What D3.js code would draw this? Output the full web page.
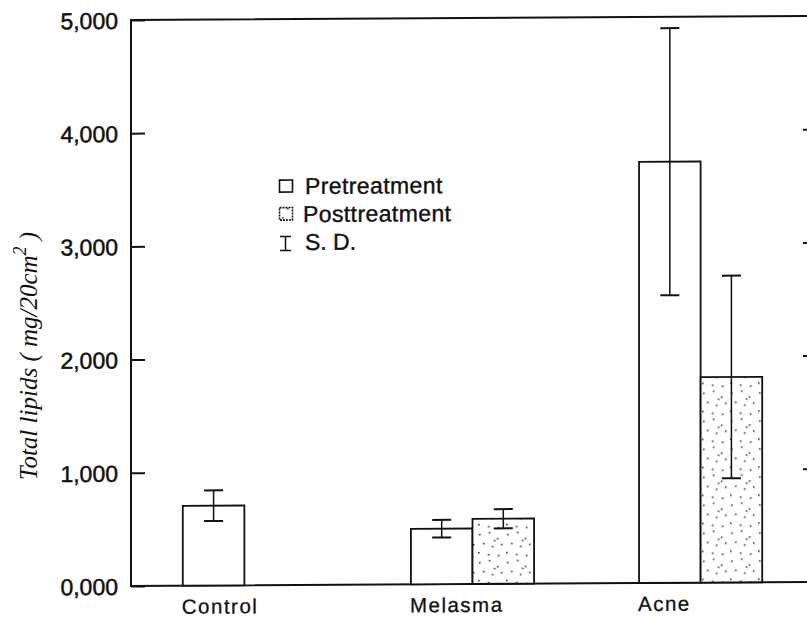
<!doctype html>
<meta charset="utf-8">
<style>
  body { margin: 0; background: #fff; }
  text { fill: #111; }
</style>
<body>
<script src="https://cdn.jsdelivr.net/npm/d3@7"></script>
<script>

// values (mg/20cm2)
let categories = ["Control", "Melasma", "Acne"];
let series = ["Pretreatment", "Posttreatment"];
let preMeans = [705, 490, 3720];
let preSD = [135, 78, 1180];
let postMeans = [null, 575, 1815];
let postSD = [null, 85, 895];
let yTicks = [0, 1000, 2000, 3000, 4000, 5000];

let width = 807, height = 622;
let plotLeft = 131, plotRight = 817, plotTop = 20, plotBottom = 586;

let svg = d3.select("body").append("svg")
    .attr("width", width)
    .attr("height", height);

// dotted fill for the posttreatment bars
let pat = svg.append("defs").append("pattern")
    .attr("id", "dots")
    .attr("patternUnits", "userSpaceOnUse")
    .attr("width", 28).attr("height", 28);
pat.append("rect").attr("width", 28).attr("height", 28).attr("fill", "#fff");
[[3,4],[13,2],[21,8],[7,13],[16,16],[25,14],[2,22],[12,24],[22,25],[18,10]]
  .forEach(p => pat.append("rect")
    .attr("x", p[0]).attr("y", p[1]).attr("width", 1.5).attr("height", 1.5)
    .attr("fill", "#222"));

// the scan is slightly tilted: horizontals drop a few px to the left
let g = svg.append("g")
    .attr("transform", "translate(" + plotLeft + ",0) skewY(-0.34) translate(" + (-plotLeft) + ",0)");

let y = d3.scaleLinear().domain([0, 5000]).range([plotBottom, plotTop]);

let x = d3.scaleBand().domain(categories)
    .range([plotLeft, 814])
    .paddingInner(0.46)
    .paddingOuter(0.227);

let xs = d3.scaleBand().domain(series).range([0, x.bandwidth()]);

// frame
g.append("path")
    .attr("d", "M" + plotRight + "," + plotTop + "H" + plotLeft + "V" + plotBottom + "H" + plotRight + "V" + plotTop)
    .attr("fill", "none").attr("stroke", "#111").attr("stroke-width", 2);

// left axis, ticks pointing inward
let yAxis = g.append("g")
    .attr("transform", "translate(" + plotLeft + ",0)")
    .call(d3.axisLeft(y).tickValues(yTicks).tickSize(-14).tickPadding(13)
      .tickFormat(d3.format("05,")));
yAxis.select(".domain").remove();
yAxis.selectAll("line").attr("stroke", "#111").attr("stroke-width", 2);
yAxis.selectAll("text")
    .attr("font-family", "'Liberation Sans', Arial, sans-serif")
    .attr("font-size", 23)
    .attr("stroke", "#111").attr("stroke-width", 0.5)
    .attr("dy", "0.36em");

// right axis ticks
let yRight = g.append("g")
    .attr("transform", "translate(" + plotRight + ",0)")
    .call(d3.axisRight(y).tickValues([1000, 2000, 3000, 4000]).tickSize(-14).tickFormat(""));
yRight.select(".domain").remove();
yRight.selectAll("line").attr("stroke", "#111").attr("stroke-width", 2);

// bars
let bars = [];
categories.forEach((c, i) => {
  bars.push({cat: c, s: "Pretreatment", v: preMeans[i], sd: preSD[i]});
  if (postMeans[i] != null) bars.push({cat: c, s: "Posttreatment", v: postMeans[i], sd: postSD[i]});
});

g.selectAll(".bar")
  .data(bars)
  .enter().append("rect")
    .attr("class", "bar")
    .attr("x", d => x(d.cat) + xs(d.s))
    .attr("y", d => y(d.v))
    .attr("width", xs.bandwidth())
    .attr("height", d => y(0) - y(d.v))
    .attr("fill", d => d.s === "Pretreatment" ? "#fff" : "url(#dots)")
    .attr("stroke", "#111")
    .attr("stroke-width", 1.8);

// error bars
let capW = 19;
let err = g.selectAll(".err")
  .data(bars)
  .enter().append("g")
    .attr("class", "err")
    .attr("stroke", "#111")
    .attr("stroke-width", 1.5);
err.append("line")
    .attr("x1", d => x(d.cat) + xs(d.s) + xs.bandwidth() / 2)
    .attr("x2", d => x(d.cat) + xs(d.s) + xs.bandwidth() / 2)
    .attr("y1", d => y(d.v - d.sd))
    .attr("y2", d => y(d.v + d.sd));
[1, -1].forEach(k => {
  err.append("line")
      .attr("x1", d => x(d.cat) + xs(d.s) + xs.bandwidth() / 2 - capW / 2)
      .attr("x2", d => x(d.cat) + xs(d.s) + xs.bandwidth() / 2 + capW / 2)
      .attr("y1", d => y(d.v + k * d.sd))
      .attr("y2", d => y(d.v + k * d.sd))
      .attr("stroke-width", 2);
});

// category labels, left aligned on the group
g.selectAll(".cat")
  .data(categories)
  .enter().append("text")
    .attr("class", "cat")
    .attr("x", d => x(d) - 1)
    .attr("y", 614)
    .attr("font-family", "'Liberation Sans', Arial, sans-serif")
    .attr("font-size", 20.5)
    .attr("letter-spacing", 1.5)
    .attr("stroke", "#111").attr("stroke-width", 0.3)
    .text(d => d);

// legend
let leg = g.append("g")
    .attr("font-family", "'Liberation Sans', Arial, sans-serif")
    .attr("font-size", 23);
leg.append("rect").attr("x", 279.5).attr("y", 181).attr("width", 13).attr("height", 12)
    .attr("fill", "#fff").attr("stroke", "#111").attr("stroke-width", 1.6);
leg.append("rect").attr("x", 279.5).attr("y", 208.5).attr("width", 13).attr("height", 12.5)
    .attr("fill", "url(#dots)").attr("stroke", "#111").attr("stroke-width", 1.6)
    .attr("stroke-dasharray", "2,1");
leg.append("path")
    .attr("d", "M280,237.5H291M285.5,237.5V251.5M280,251.5H291")
    .attr("fill", "none").attr("stroke", "#111").attr("stroke-width", 1.5);
let legText = leg.append("g").attr("stroke", "#111").attr("stroke-width", 0.4);
legText.append("text").attr("x", 305).attr("y", 195).attr("letter-spacing", 0.4).text(series[0]);
legText.append("text").attr("x", 303).attr("y", 223).attr("letter-spacing", 0.4).text(series[1]);
legText.append("text").attr("x", 305).attr("y", 251).text("S. D.");

// y title
let title = svg.append("text")
    .attr("transform", "translate(37,356) rotate(-90)")
    .attr("text-anchor", "middle")
    .attr("font-family", "'Liberation Serif', 'Times New Roman', serif")
    .attr("font-style", "italic")
    .attr("font-size", 25);
title.append("tspan").text("Total lipids ( mg/20cm");
title.append("tspan").attr("dy", -11).attr("font-size", 18).text("2");
title.append("tspan").attr("dy", 11).text(" )");

</script>
